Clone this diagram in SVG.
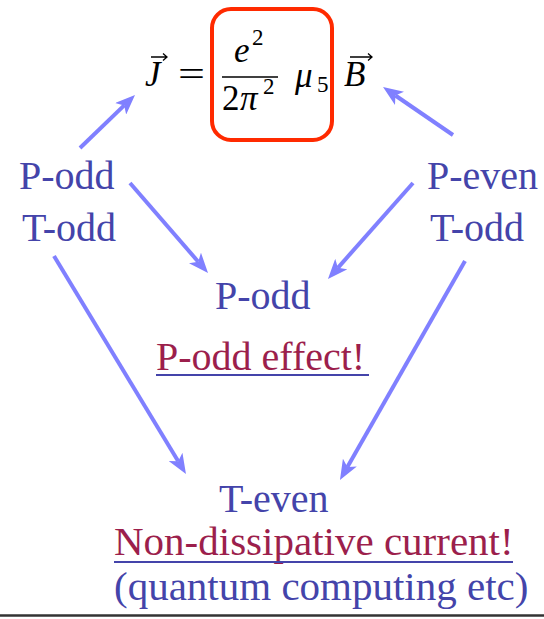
<svg xmlns="http://www.w3.org/2000/svg" width="544" height="619" viewBox="0 0 544 619">
<style>
.lbl{font-family:"Liberation Serif","Times New Roman",serif;font-size:40px;fill:#4444aa}
.red{font-family:"Liberation Serif","Times New Roman",serif;font-size:40px;fill:#9c1f4c}
.big{font-size:41px}
.m{font-family:"Liberation Serif","Times New Roman",serif;font-size:35px;fill:#000}
.mi{font-family:"Liberation Serif","Times New Roman",serif;font-size:35px;font-style:italic;fill:#000}
.sup{font-family:"Liberation Serif","Times New Roman",serif;font-size:23px;fill:#000}
.ul{stroke:#4444aa;stroke-width:2}
.arr{stroke:#8080ff;stroke-width:4;fill:none;marker-end:url(#ah)}
.vec{stroke:#000;stroke-width:1.3;fill:none}
</style>
<defs>
<marker id="ah" markerUnits="userSpaceOnUse" markerWidth="20" markerHeight="16" viewBox="0 0 20 16" refX="5" refY="8" orient="auto">
<path d="M0,0 L20,8 L0,16 L5,8 z" fill="#8080ff"/>
</marker>
</defs>
<rect width="544" height="619" fill="#fff"/>
<g id="equation">
<text class="mi" x="145" y="86">J</text>
<path class="vec" d="M151,57 H167 M163,53.5 L167,57 L163,60.5"/>
<text class="m" x="178" y="86" textLength="27" lengthAdjust="spacingAndGlyphs">=</text>
<rect x="212" y="9" width="120" height="131" rx="19" fill="none" stroke="#ff2a00" stroke-width="4"/>
<text class="mi" x="234" y="62">e</text>
<text class="sup" x="252" y="45">2</text>
<line x1="222" y1="77" x2="278" y2="77" stroke="#000" stroke-width="1.5"/>
<text class="m" x="222" y="110">2</text>
<text class="mi" x="240" y="110">π</text>
<text class="sup" x="263" y="94">2</text>
<text class="mi" x="295" y="87">μ</text>
<text class="sup" x="317" y="92">5</text>
<text class="mi" x="344" y="86">B</text>
<path class="vec" d="M350,57 H372 M368,53.5 L372,57 L368,60.5"/>
</g>
<g id="left">
<text class="lbl" x="19" y="189">P-odd</text>
<text class="lbl" x="22" y="241">T-odd</text>
</g>
<g id="right">
<text class="lbl" x="427" y="189">P-even</text>
<text class="lbl" x="430" y="241">T-odd</text>
</g>
<g id="middle">
<text class="lbl" x="215" y="309">P-odd</text>
<text class="red" x="156" y="370">P-odd effect!</text>
<line class="ul" x1="156" y1="375" x2="369" y2="375"/>
</g>
<g id="bottom">
<text class="lbl" x="219" y="512">T-even</text>
<text class="red big" x="114" y="555">Non-dissipative current!</text>
<line class="ul" x1="114" y1="562" x2="513" y2="562"/>
<text class="lbl big" x="114" y="600">(quantum computing etc)</text>
</g>
<g id="connectors">
<line class="arr" x1="80" y1="148" x2="124.2" y2="105.4"/>
<line class="arr" x1="453" y1="135" x2="395.4" y2="95.5"/>
<line class="arr" x1="130" y1="183" x2="198.2" y2="261.7"/>
<line class="arr" x1="413" y1="183" x2="337.9" y2="267.8"/>
<line class="arr" x1="54" y1="256" x2="178.2" y2="461.2"/>
<line class="arr" x1="465" y1="261" x2="347.4" y2="467"/>
</g>
<line x1="0" y1="615.5" x2="544" y2="615.5" stroke="#333" stroke-width="2.5"/>
</svg>
